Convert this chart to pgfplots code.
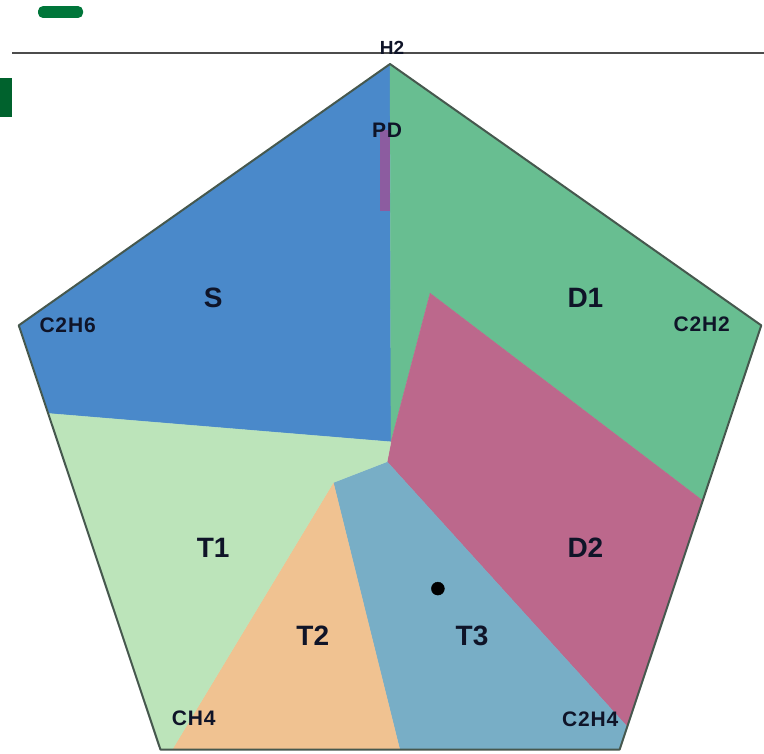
\documentclass[border=0pt]{standalone}
\usepackage{pgfplots}
\pgfplotsset{compat=1.18}
\usepackage{fontspec}
\setmainfont{Liberation Sans}

\definecolor{zoneS}{RGB}{74,137,202}
\definecolor{zoneDone}{RGB}{104,190,145}
\definecolor{zoneDtwo}{RGB}{188,104,140}
\definecolor{zoneTone}{RGB}{188,228,186}
\definecolor{zoneTtwo}{RGB}{240,194,145}
\definecolor{zoneTthree}{RGB}{120,174,198}
\definecolor{zonePD}{RGB}{140,92,160}
\definecolor{edgecol}{RGB}{70,88,78}
\definecolor{labcol}{RGB}{15,20,40}
\definecolor{darkgreen}{RGB}{0,118,58}
\definecolor{deepgreen}{RGB}{0,98,45}

\newcommand{\zonelab}[1]{{\fontsize{28}{30}\selectfont\bfseries #1}}
\newcommand{\gas}[1]{{\fontsize{21}{23}\selectfont\bfseries\addfontfeature{LetterSpace=4}#1}}

\begin{document}
\begin{tikzpicture}
\begin{axis}[
  scale only axis,
  width=764pt, height=753pt,
  xmin=-39.92, xmax=38.28,
  ymin=-32.76, ymax=46.76,
  hide axis,
  clip=false,
]
% fault zones of the Duval pentagon
\addplot[fill=zoneS, draw=zoneS, line width=0.3pt] coordinates
  {(0,40) (-38,12.4) (-35,3.1) (0.1,0.1)} -- cycle;
\addplot[fill=zoneDone, draw=zoneDone, line width=0.3pt] coordinates
  {(0,40) (38,12.4) (32,-6.1) (4.1,15.8) (0.1,0.1)} -- cycle;
\addplot[fill=zoneDtwo, draw=zoneDtwo, line width=0.3pt] coordinates
  {(4.1,15.8) (32,-6.1) (24.3,-30) (-0.3,-2.0) (0.1,0.1)} -- cycle;
\addplot[fill=zoneTthree, draw=zoneTthree, line width=0.3pt] coordinates
  {(-0.3,-2.0) (24.3,-30) (23.5,-32.4) (1,-32.4) (-5.8,-4.2)} -- cycle;
\addplot[fill=zoneTtwo, draw=zoneTtwo, line width=0.3pt] coordinates
  {(-5.8,-4.2) (1,-32.4) (-22.3,-32.4)} -- cycle;
\addplot[fill=zoneTone, draw=zoneTone, line width=0.3pt] coordinates
  {(-5.8,-4.2) (-22.3,-32.4) (-23.5,-32.4) (-35,3.1) (0.1,0.1) (-0.3,-2.0)} -- cycle;
% partial discharge strip
\addplot[fill=zonePD, draw=none] coordinates
  {(-1,33) (0,33) (0,24.5) (-1,24.5)} -- cycle;
% pentagon outline
\addplot[draw=edgecol, line width=2pt, line join=round] coordinates
  {(0,40) (38,12.4) (23.5,-32.4) (-23.5,-32.4) (-38,12.4)} -- cycle;
% top rule
\addplot[draw=black!70, line width=2.6pt] coordinates {(-38.69,41.16) (38.28,41.16)};
% green marks
\addplot[fill=darkgreen, draw=none, rounded corners=5pt] coordinates
  {(-36.03,46.12) (-31.42,46.12) (-31.42,44.86) (-36.03,44.86)} -- cycle;
\addplot[fill=deepgreen, draw=none] coordinates
  {(-39.92,38.52) (-38.69,38.52) (-38.69,34.40) (-39.92,34.40)} -- cycle;
% measured sample
\addplot[only marks, mark=*, mark size=6.5pt, color=black] coordinates {(4.9,-15.4)};

% labels
\node[text=labcol] at (axis cs:-18.1,15.3) {\zonelab{S}};
\node[text=labcol] at (axis cs:20.0,15.3) {\zonelab{D1}};
\node[text=labcol] at (axis cs:-18.1,-11.1) {\zonelab{T1}};
\node[text=labcol] at (axis cs:20.0,-11.1) {\zonelab{D2}};
\node[text=labcol] at (axis cs:-7.9,-20.4) {\zonelab{T2}};
\node[text=labcol] at (axis cs:8.4,-20.4) {\zonelab{T3}};
\node[text=labcol] at (axis cs:-33.0,12.4) {\gas{C2H6}};
\node[text=labcol] at (axis cs:31.9,12.5) {\gas{C2H2}};
\node[text=labcol] at (axis cs:-20.1,-29.1) {\gas{CH4}};
\node[text=labcol] at (axis cs:20.5,-29.2) {\gas{C2H4}};
\node[text=labcol] at (axis cs:-0.3,33.0) {\gas{PD}};
\node[text=labcol] at (axis cs:0.2,41.7) {{\fontsize{19}{21}\selectfont\bfseries H2}};
\end{axis}
% the page is exactly the plotting area
\pgfresetboundingbox
\path (current axis.south west) rectangle (current axis.north east);
\end{tikzpicture}
\end{document}
